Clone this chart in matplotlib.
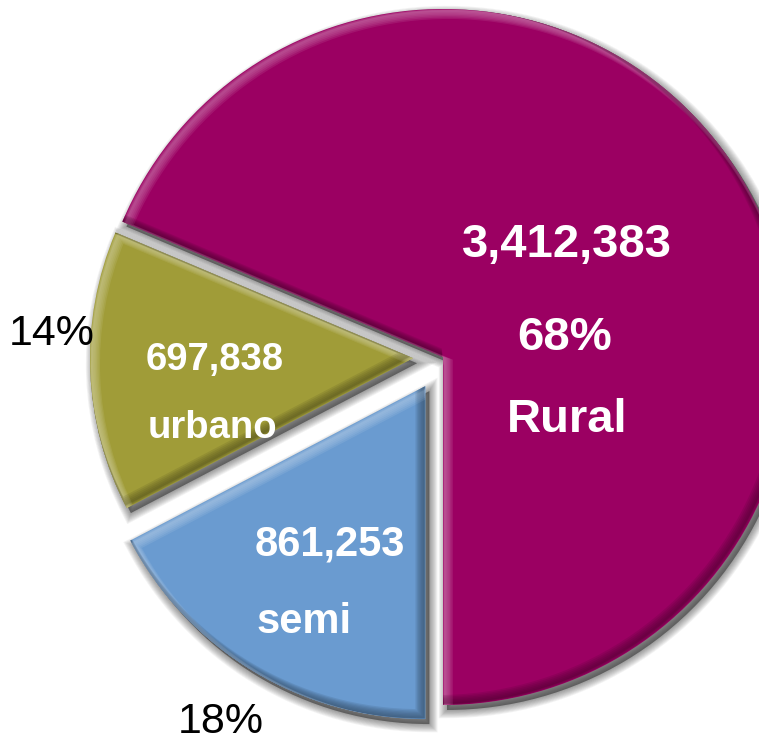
import matplotlib
matplotlib.use("Agg")
import matplotlib.pyplot as plt
from matplotlib.patches import Wedge
import matplotlib.colors as mcolors
import numpy as np

# Data
categories = ["Rural", "urbano", "semi"]
values = [3412383, 697838, 861253]
value_labels = ["3,412,383", "697,838", "861,253"]
pct_labels = ["68%", "14%", "18%"]
colors = ["#9B0062", "#A09C38", "#6A9BD0"]

W, H = 759, 744
fig = plt.figure(figsize=(W / 100, H / 100), dpi=100)
ax = fig.add_axes([0, 0, 1, 1])

R = 348
wedges, _ = ax.pie(values, colors=colors, startangle=-90, counterclock=True,
                   explode=[0, 30, 34], radius=R, center=(443, -357),
                   frame=True)
ax.set_xlim(0, W)
ax.set_ylim(-H, 0)
ax.set_aspect("equal")
ax.axis("off")
wedges[1].set_radius(323)
wedges[2].set_radius(333)


def mix(c, t, amt):
    a = np.array(mcolors.to_rgb(c))
    b = np.array(mcolors.to_rgb(t))
    return tuple(a * (1 - amt) + b * amt)


for w, c in zip(wedges, colors):
    w.set_edgecolor("none")
    w.set_zorder(3)
    cx, cy = w.center
    r, t1, t2 = w.r, w.theta1, w.theta2
    # soft drop shadow
    sc = (cx + 4, cy - 5)
    ax.add_patch(Wedge(sc, r, t1, t2, facecolor="#202020", edgecolor="none",
                       alpha=0.5, zorder=1))
    for lw in np.arange(1, 12, 1.2):
        ax.add_patch(Wedge(sc, r, t1, t2, facecolor="none", edgecolor="#202020",
                           linewidth=lw, alpha=0.05, zorder=1))
    # bevel: light rim on upper-left edges, dark rim on lower-right edges
    light = mix(c, "white", 0.45)
    dark = mix(c, "black", 0.5)
    for k in np.arange(1, 8, 1.0):
        b = Wedge((cx + k * 0.8, cy - k * 0.8), r, t1, t2, facecolor="none",
                  edgecolor=light, linewidth=k * 0.9, alpha=0.18, zorder=4)
        ax.add_patch(b)
        b.set_clip_path(w)
        d = Wedge((cx - k * 0.8, cy + k * 0.8), r, t1, t2, facecolor="none",
                  edgecolor=dark, linewidth=k * 0.9, alpha=0.16, zorder=4)
        ax.add_patch(d)
        d.set_clip_path(w)

font = "Liberation Sans"
wk = dict(color="white", fontweight="bold", family=font, ha="center", va="center",
          zorder=6)
ax.text(567, -245, value_labels[0], fontsize=34, **wk)
ax.text(565, -338, pct_labels[0], fontsize=34, **wk)
ax.text(567, -420, categories[0], fontsize=34, **wk)

ax.text(215, -360, value_labels[1], fontsize=27.5, **wk)
ax.text(212, -428, categories[1], fontsize=27.5, **wk)

ax.text(330, -545, value_labels[2], fontsize=30, **wk)
ax.text(304, -622, categories[2], fontsize=30, **wk)

bk = dict(color="black", family=font, ha="center", va="center", zorder=6)
ax.text(52, -334, pct_labels[1], fontsize=31, **bk)
ax.text(221, -722, pct_labels[2], fontsize=31, **bk)

fig.savefig("out.png", dpi=100)
